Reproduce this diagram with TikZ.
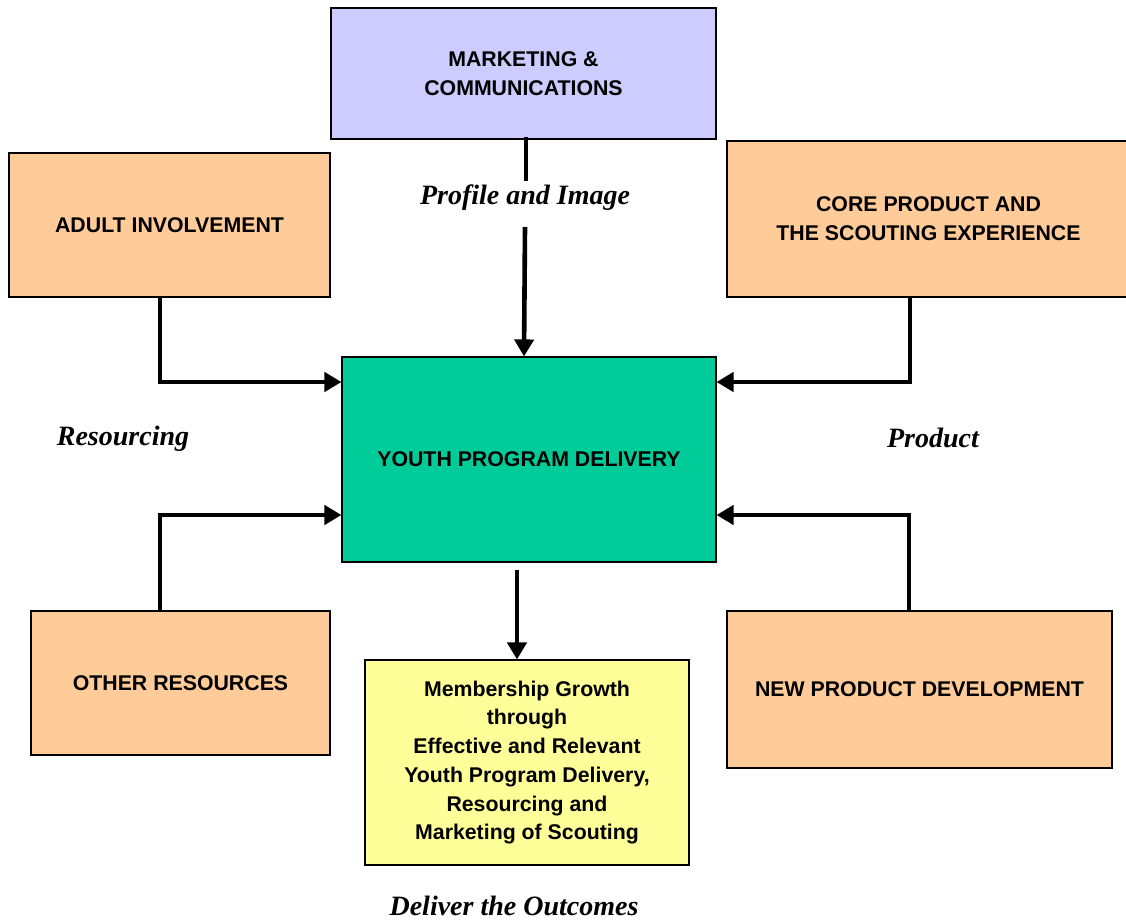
\documentclass[tikz,border=0pt]{standalone}
\usepackage{fontspec}
\setmainfont{Liberation Serif}
\setsansfont{Liberation Sans}
\usetikzlibrary{arrows.meta}
\definecolor{lav}{HTML}{CCCCFF}
\definecolor{peach}{HTML}{FFCC99}
\definecolor{teal}{HTML}{00CC99}
\definecolor{lyel}{HTML}{FFFF99}
\tikzset{
  box/.style={draw=black, line width=1.1pt, align=center, inner sep=0pt,
    font=\sffamily\bfseries\fontsize{21.3}{28.7}\selectfont},
  lbl/.style={font=\rmfamily\bfseries\itshape\fontsize{28}{32}\selectfont, inner sep=0pt},
  arr/.style={line width=4.6pt, -{Triangle[length=17pt,width=19pt]}},
  seg/.style={line width=4.6pt}
}
\begin{document}
\begin{tikzpicture}[x=1pt,y=-1pt]
\useasboundingbox (0,0) rectangle (1126,920);
\node[box, fill=lav, minimum width=385pt, minimum height=131pt] (mkt) at (523.5,73.5) {MARKETING \&\\COMMUNICATIONS};
\node[box, fill=peach, minimum width=321pt, minimum height=144pt] (adult) at (169.5,225) {ADULT INVOLVEMENT};
\node[box, fill=peach, minimum width=403pt, minimum height=156pt] (core) at (928.5,219) {CORE PRODUCT AND\\THE SCOUTING EXPERIENCE};
\node[box, fill=teal, minimum width=374pt, minimum height=205pt] (youth) at (529,459.5) {YOUTH PROGRAM DELIVERY};
\node[box, fill=peach, minimum width=299pt, minimum height=144pt] (other) at (180.5,683) {OTHER RESOURCES};
\node[box, fill=lyel, minimum width=324pt, minimum height=205pt] (memb) at (527,762.5) {Membership Growth\\through\\Effective and Relevant\\Youth Program Delivery,\\Resourcing and\\Marketing of Scouting};
\node[box, fill=peach, minimum width=385pt, minimum height=157pt] (newp) at (919.5,689.5) {NEW PRODUCT DEVELOPMENT};

\node[lbl] (prof) at (525,198) {Profile and Image};
\node[lbl] (res) at (123,439) {Resourcing};
\node[lbl] (prod) at (933,438) {Product};
\node[lbl] (deliv) at (514,906) {Deliver the Outcomes};

\coordinate (g1) at (526,181);
\coordinate (g2) at (525,227);
\draw[seg] ([xshift=2.5pt,yshift=3pt]mkt.south) -- (g1);
\draw[arr] (g2) -- ([xshift=-1pt]youth.north -| g2);

\draw[arr] ([xshift=-9.5pt]adult.south) |- ([yshift=77.5pt]youth.west);
\draw[arr] ([xshift=-20.5pt]other.north) |- ([yshift=-55.5pt]youth.west);
\draw[arr] ([xshift=-18.5pt]core.south) |- ([yshift=77.5pt]youth.east);
\draw[arr] ([xshift=-10.5pt]newp.north) |- ([yshift=-55.5pt]youth.east);
\draw[arr] ([xshift=-12pt,yshift=-7pt]youth.south) -- ([xshift=-10pt]memb.north);
\end{tikzpicture}
\end{document}
